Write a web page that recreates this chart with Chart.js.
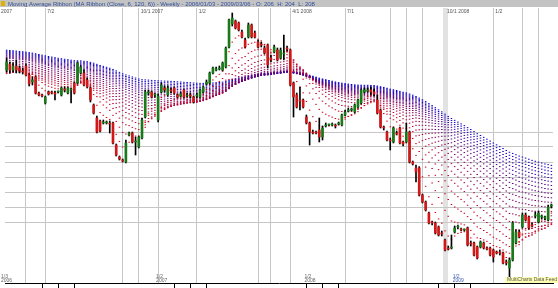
<!DOCTYPE html>
<html><head><meta charset="utf-8">
<script src="https://cdn.jsdelivr.net/npm/chart.js@4.4.0/dist/chart.umd.min.js"></script>
<style>
html,body{margin:0;padding:0;background:#fff;overflow:hidden;}
canvas{display:block;}
</style></head><body>
<canvas id="c" width="558" height="288"></canvas>
<script>
// ---- data (price units) ----
const opens = [213,219,213,217,215,212,217,208,201,206,190,188,180,191,191,190,191,188,194,190,193,200,200,210,210,203,195,178,165,162,160,160,160,160,138,126,123,121,148,150,141,136,145,166,190,191,188,163,191,195,188,193,195,188,187,193,187,188,186,187,186,191,199,200,210,213,214,213,216,236,259,262,260,251,243,246,258,250,241,239,235,238,225,231,233,225,229,235,233,200,188,183,183,166,160,151,151,153,146,157,158,158,158,159,158,168,172,173,171,176,180,191,192,193,191,183,173,156,151,143,141,150,155,141,141,151,121,115,115,88,81,70,61,60,56,50,43,35,35,51,56,54,53,55,40,40,36,36,40,35,35,33,31,31,30,21,15,23,40,51,56,68,66,58,67,61,66,65,63,77];
const highs = [225,221,220,223,217,215,219,209,206,207,191,189,187,192,192,192,192,196,196,196,195,201,221,217,213,205,196,179,167,163,163,162,162,161,139,127,124,143,151,151,146,147,165,193,193,192,190,189,200,197,197,195,196,189,191,194,190,190,187,190,194,197,203,211,216,216,217,221,236,264,270,263,261,253,245,260,259,252,243,241,237,239,228,238,235,235,248,237,234,201,190,196,184,168,161,153,152,165,157,160,159,160,159,161,169,173,175,175,179,184,194,195,195,196,194,188,174,157,152,145,156,152,156,142,160,152,122,118,116,89,82,71,62,61,57,52,44,37,48,57,58,55,54,56,42,41,37,42,41,36,36,34,32,33,31,23,25,61,53,53,70,70,67,60,71,72,68,67,78,79];
const lows = [211,210,211,210,210,209,207,197,198,189,187,186,179,188,189,183,190,187,191,189,180,189,199,209,197,195,181,169,150,151,159,159,150,139,127,123,121,120,147,140,128,135,144,165,188,185,186,161,190,191,187,190,189,185,186,185,186,185,180,185,185,190,198,199,209,212,213,212,215,235,257,254,252,245,235,245,245,245,235,236,229,215,221,230,222,224,223,232,197,166,175,173,175,159,138,149,149,141,143,156,157,157,155,158,157,167,171,172,170,175,179,190,191,188,187,169,155,153,142,133,140,148,139,137,140,120,118,101,87,80,72,59,58,49,47,47,32,33,34,50,54,52,52,37,37,27,24,35,34,33,27,21,29,28,19,18,6,22,39,45,55,62,54,56,65,60,64,63,62,75];
const closes = [221,213,217,213,212,211,208,199,203,190,188,187,186,189,190,189,191,195,193,195,194,190,220,216,198,196,183,170,151,152,161,160,159,140,128,124,122,140,150,141,142,146,163,191,191,186,188,187,198,193,195,192,190,186,189,186,188,187,181,188,193,196,201,210,215,214,215,220,235,263,265,255,253,246,236,258,246,246,236,238,230,218,223,236,223,233,230,234,198,186,176,182,176,160,151,150,150,146,155,158,158,159,157,160,168,171,173,173,178,183,193,193,193,191,189,170,156,155,143,142,155,149,140,139,151,121,119,111,88,81,73,60,60,50,48,49,33,34,36,55,56,53,53,38,39,28,25,41,35,34,28,26,30,30,20,20,23,60,51,46,68,63,55,57,68,70,66,65,76,77];
const categories = closes.map((_, i) => 'Bar ' + (i + 1));
// ribbon periods and their starting values at the left edge
const maPeriods = [6,12,18,24,30,36,42,48,54,60,66,72,78,84,90,96,102,108,114,120];
const maSeeds   = [211,209,208,209,211,213,215,217,219,221,223,225,226,227,228,229,230,231,232,233];
// price grid levels and vertical separators
const priceGrid = [61,76,91,106,121,136,151];
const sepIdx = [6,12,36,41,47,59,78,82,88,105,119,124,129,151,160,165];
const bandIdx = 136;
const tickIdx = [11,16,21,52,57,62,93,98,103,134,139,144];
const topLabels = [[0,'2007'],[12,'7/2'],[41,'10/1 2007'],[59,'1/2'],[88,'4/1 2008'],[105,'7/1'],[136,'10/1 2008'],[151,'1/2']];
const bottomLabels = [[0,'1/3','2006'],[47,'1/2','2007'],[93,'1/2','2008'],[139,'1/2','2009']];
const headerText = 'Moving Average Ribbon (MA Ribbon (Close, 6, 120, 6)) - Weekly - 2006/01/03 - 2009/03/06 - O: 206  H: 204  L: 208';

function ema(p, seed) {
  const a = 2 / (p + 1);
  let v = seed;
  return closes.map(c => { v = v + a * (c - v); return +v.toFixed(2); });
}
function maColor(k) {
  const t = k / (maPeriods.length - 1);
  const r = Math.round(215 * (1 - t) + 10 * t);
  const b = Math.round(20 * (1 - t) + 200 * t);
  return `rgb(${r},0,${b})`;
}

const maSets = maPeriods.map((p, k) => ({
  type: 'line', data: ema(p, maSeeds[k]), showLine: false,
  pointStyle: 'line', pointRadius: 0.75, pointBorderWidth: 1,
  pointBorderColor: maColor(k), pointBackgroundColor: maColor(k),
  borderColor: maColor(k), order: 2 + k
}));

const bodyColors = closes.map((c, i) => c >= opens[i] ? '#1a7a1a' : '#d01818');

const decor = {
  id: 'decor',
  beforeDraw(chart) {
    const ctx = chart.ctx;
    ctx.save();
    ctx.fillStyle = '#c3c3c3';
    ctx.fillRect(0, 0, 558, 7);
    ctx.fillStyle = '#e0b000';
    ctx.fillRect(1, 1, 4, 5);
    ctx.font = '6px "Liberation Sans", Arial, sans-serif';
    ctx.fillStyle = '#2d4c9a';
    ctx.textBaseline = 'middle';
    ctx.fillText(headerText, 8, 4);
    ctx.restore();
  },
  afterDraw(chart) {
    const ctx = chart.ctx, xs = chart.scales.x;
    ctx.save();
    ctx.font = '5px "Liberation Sans", Arial, sans-serif';
    ctx.textBaseline = 'top';
    topLabels.forEach(([i, t]) => {
      const x = i === 0 ? 1 : xs.getPixelForValue(i) + 2;
      ctx.fillStyle = '#555';
      ctx.fillText(t, x, 9);
    });
    bottomLabels.forEach(([i, a, b], k) => {
      const x = i === 0 ? 1 : xs.getPixelForValue(i) - 2;
      ctx.fillStyle = k === bottomLabels.length - 1 ? '#3a5ab0' : '#666';
      ctx.fillText(a, x, 274);
      ctx.fillText(b, x, 278);
    });
    ctx.fillStyle = '#ffffb4';
    ctx.fillRect(505, 277, 53, 6);
    ctx.fillStyle = '#555';
    ctx.fillText('MultiCharts Data Feed', 507, 277.5);
    ctx.restore();
  }
};

new Chart(document.getElementById('c'), {
  type: 'bar',
  data: {
    labels: categories,
    datasets: [
      { type: 'bar', data: opens.map((o, i) => [o, closes[i]]), backgroundColor: bodyColors,
        barThickness: 2, grouped: false, minBarLength: 1, order: 0 },
      { type: 'bar', data: lows.map((l, i) => [l, highs[i]]), backgroundColor: '#000',
        barThickness: 1, grouped: false, order: 1 },
      ...maSets
    ]
  },
  options: {
    responsive: false, animation: false, events: [],
    layout: { padding: { top: 8, left: 0, right: 0, bottom: 0 } },
    plugins: { legend: { display: false }, tooltip: { enabled: false } },
    scales: {
      x: {
        offset: true,
        ticks: { display: false, autoSkip: false },
        border: { display: true, color: '#000', width: 1 },
        grid: {
          offset: false, drawTicks: true, tickLength: 5, tickWidth: 1,
          color: c => sepIdx.includes(c.index) ? '#c6c6c6' : (c.index === bandIdx ? '#e2e2e2' : 'rgba(0,0,0,0)'),
          lineWidth: c => c.index === bandIdx ? 5 : 1,
          tickColor: c => tickIdx.includes(c.index) ? '#000' : 'rgba(0,0,0,0)'
        }
      },
      y: {
        min: 0, max: 275,
        afterBuildTicks: s => { s.ticks = priceGrid.map(v => ({ value: v })); },
        ticks: { display: false },
        border: { display: false },
        grid: { color: '#c6c6c6', drawTicks: false, lineWidth: 1 }
      }
    }
  },
  plugins: [decor]
});
</script>
</body></html>
